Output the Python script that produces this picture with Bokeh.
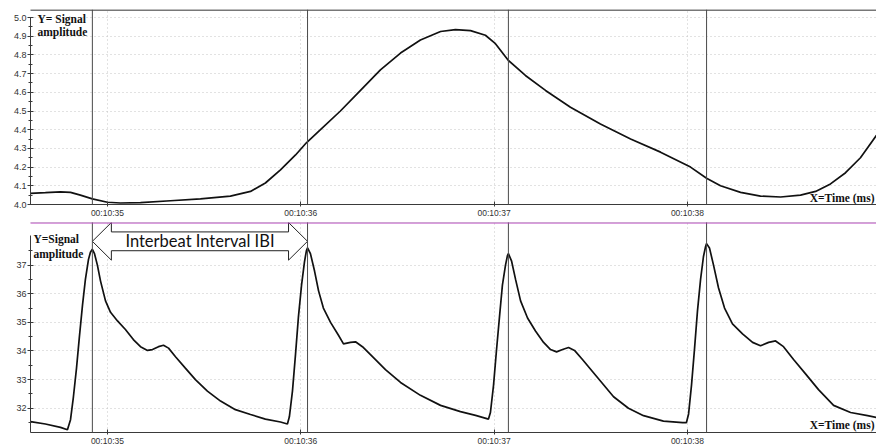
from bokeh.plotting import figure
from bokeh.layouts import column
from bokeh.models import Range1d, FixedTicker, PrintfTickFormatter, Label, Arrow
from bokeh.embed import file_html
from bokeh.resources import INLINE

# ---------------- data (time in seconds after 00:10:00) ----------------
resp_t = [34.602, 34.679, 34.757, 34.809, 34.860, 34.922, 35.000, 35.067, 35.171,
          35.326, 35.481, 35.636, 35.740, 35.817, 35.895, 35.973, 36.029, 36.102,
          36.205, 36.309, 36.412, 36.516, 36.619, 36.723, 36.800, 36.878, 36.955,
          37.007, 37.074, 37.162, 37.266, 37.395, 37.550, 37.706, 37.861, 38.016,
          38.099, 38.171, 38.275, 38.378, 38.482, 38.585, 38.663, 38.740, 38.818,
          38.895, 38.978]
resp_v = [4.060, 4.063, 4.068, 4.065, 4.050, 4.030, 4.012, 4.008, 4.010,
          4.020, 4.030, 4.045, 4.070, 4.115, 4.185, 4.265, 4.330, 4.400,
          4.500, 4.610, 4.720, 4.810, 4.880, 4.925, 4.935, 4.930, 4.905,
          4.860, 4.770, 4.690, 4.610, 4.520, 4.430, 4.350, 4.280, 4.200,
          4.140, 4.100, 4.065, 4.045, 4.040, 4.050, 4.070, 4.110, 4.170,
          4.250, 4.370]

ppg_t = [34.602, 34.679, 34.757, 34.793, 34.809, 34.824, 34.840, 34.855, 34.871,
         34.886, 34.902, 34.912, 34.922, 34.933, 34.948, 34.964, 34.990, 35.016,
         35.052, 35.093, 35.134, 35.171, 35.207, 35.233, 35.264, 35.290, 35.316,
         35.352, 35.403, 35.455, 35.517, 35.585, 35.662, 35.740, 35.817, 35.895,
         35.931, 35.941, 35.957, 35.973, 35.988, 36.004, 36.019, 36.029, 36.035,
         36.050, 36.071, 36.092, 36.117, 36.154, 36.195, 36.221, 36.257, 36.283,
         36.319, 36.371, 36.438, 36.516, 36.619, 36.723, 36.826, 36.904, 36.971,
         36.981, 36.997, 37.012, 37.028, 37.043, 37.059, 37.069, 37.074, 37.090,
         37.111, 37.137, 37.173, 37.214, 37.256, 37.292, 37.323, 37.354, 37.385,
         37.416, 37.457, 37.525, 37.618, 37.695, 37.773, 37.876, 37.975, 37.995,
         38.006, 38.021, 38.037, 38.052, 38.068, 38.083, 38.094, 38.099, 38.114,
         38.135, 38.161, 38.192, 38.233, 38.285, 38.337, 38.378, 38.420, 38.456,
         38.497, 38.549, 38.611, 38.678, 38.756, 38.844, 38.932, 38.978]
ppg_v = [31.53, 31.45, 31.33, 31.25, 31.60, 32.40, 33.40, 34.50, 35.60,
         36.50, 37.20, 37.45, 37.55, 37.40, 37.00, 36.45, 35.75, 35.35,
         35.05, 34.75, 34.40, 34.15, 34.02, 34.05, 34.15, 34.20, 34.10,
         33.80, 33.40, 33.00, 32.60, 32.25, 31.95, 31.78, 31.62, 31.52,
         31.45, 31.70, 32.60, 33.90, 35.20, 36.30, 37.10, 37.50, 37.60,
         37.40, 36.80, 36.10, 35.50, 35.00, 34.55, 34.25, 34.30, 34.32,
         34.15, 33.80, 33.35, 32.90, 32.45, 32.10, 31.88, 31.75, 31.62,
         31.85, 32.80, 34.00, 35.20, 36.30, 37.00, 37.33, 37.40, 37.15,
         36.50, 35.75, 35.15, 34.70, 34.30, 34.05, 33.97, 34.05, 34.12,
         34.02, 33.70, 33.15, 32.40, 32.00, 31.74, 31.55, 31.50, 31.50,
         31.80, 32.80, 34.10, 35.40, 36.50, 37.30, 37.65, 37.75, 37.60,
         37.00, 36.20, 35.50, 34.95, 34.60, 34.30, 34.18, 34.30, 34.35,
         34.15, 33.70, 33.20, 32.65, 32.10, 31.85, 31.74, 31.68]

beat_t = [34.922, 36.035, 37.074, 38.099]
x_ticks = [35, 36, 37, 38]
x_tick_labels = ["00:10:35", "00:10:36", "00:10:37", "00:10:38"]
resp_y_ticks = [4.0, 4.1, 4.2, 4.3, 4.4, 4.5, 4.6, 4.7, 4.8, 4.9, 5.0]
ppg_y_ticks = [32, 33, 34, 35, 36, 37]
top_y_title = ["Y= Signal", "amplitude"]
bot_y_title = ["Y=Signal", "amplitude"]
x_title = "X=Time (ms)"
ibi_label = "Interbeat Interval IBI"

# ---------------- geometry (page pixels) ----------------
W = 876
LEFT = 30                       # y axis at page x = 30
X_START, X_END = 34.602, 38.978
PPX = (W - LEFT) / (X_END - X_START)

H1, T1, B1 = 221, 9, 17         # top figure: page y 0..221, frame 9..204
PPY1 = 187.0
Y1_START = 4.0
Y1_END = Y1_START + (H1 - T1 - B1) / PPY1

H2, T2, B2 = 227, 1, 14         # bottom figure: page y 221..448, frame 222..434
PPY2 = 28.9
F1_BOTTOM = H1 - B1
F2_BOTTOM = H1 + H2 - B2
Y2_START = 32 - (F2_BOTTOM - 409.5) / PPY2
Y2_END = Y2_START + (H2 - T2 - B2) / PPY2


def x_at(px):
    return X_START + (px - LEFT) / PPX


def y1_at(py):
    return Y1_START + (F1_BOTTOM - py) / PPY1


def y2_at(py):
    return Y2_START + (F2_BOTTOM - py) / PPY2


AX = "#3a3a3a"
GRID = "#c4c4c4"
MARK = "#4a4a4a"
CURVE = "#111111"


def make_fig(h, y0, y1, bt, bb, yticks, yminor, fmt, ybounds):
    p = figure(width=W, height=h, x_range=Range1d(X_START, X_END),
               y_range=Range1d(y0, y1), output_backend="svg",
               toolbar_location=None, title=None,
               min_border_left=LEFT, min_border_right=0,
               min_border_top=bt, min_border_bottom=bb)
    p.outline_line_color = None
    p.background_fill_color = "white"
    p.border_fill_color = "white"

    xa = p.xaxis[0]
    xa.ticker = FixedTicker(ticks=x_ticks)
    xa.major_label_overrides = {float(t): l for t, l in zip(x_ticks, x_tick_labels)}
    xa.major_label_text_font = "Liberation Sans"
    xa.major_label_text_font_size = "8.5px"
    xa.major_label_text_color = "#333333"
    xa.major_label_standoff = 1
    xa.major_tick_in = 3
    xa.major_tick_out = 2
    xa.minor_tick_in = 0
    xa.minor_tick_out = 0
    xa.axis_line_color = AX
    xa.major_tick_line_color = AX

    ya = p.yaxis[0]
    ya.ticker = FixedTicker(ticks=yticks, minor_ticks=yminor)
    ya.formatter = PrintfTickFormatter(format=fmt)
    ya.bounds = ybounds
    ya.major_label_text_font = "Liberation Sans"
    ya.major_label_text_font_size = "9px"
    ya.major_label_text_color = "#333333"
    ya.major_label_standoff = 1
    ya.major_tick_in = 3
    ya.major_tick_out = 3
    ya.minor_tick_in = 2
    ya.minor_tick_out = 2
    ya.axis_line_color = AX
    ya.major_tick_line_color = AX
    ya.minor_tick_line_color = AX

    p.xgrid.ticker = FixedTicker(ticks=x_ticks)
    p.ygrid.ticker = FixedTicker(ticks=yticks[1:] if yticks[0] == ybounds[0] else yticks)
    for g in (p.xgrid, p.ygrid):
        g.grid_line_color = GRID
        g.grid_line_dash = "1 3"
        g.grid_line_width = 1
    return p


def vline(p, x, ya, yb, color=MARK, width=1):
    p.add_layout(Arrow(end=None, start=None, x_start=x, y_start=ya, x_end=x, y_end=yb,
                       line_color=color, line_width=width))


def hline(p, xa, xb, y, color, width):
    p.add_layout(Arrow(end=None, start=None, x_start=xa, y_start=y, x_end=xb, y_end=y,
                       line_color=color, line_width=width))


# ---------------- top panel ----------------
resp_minor = [round(v + 0.05, 2) for v in resp_y_ticks[:-1]]
p1 = make_fig(H1, Y1_START, Y1_END, T1, B1, resp_y_ticks, resp_minor, "%.1f",
              (resp_y_ticks[0], resp_y_ticks[-1]))
p1.line(resp_t, resp_v, line_color=CURVE, line_width=1.7)

hline(p1, x_at(12), X_END, y1_at(9.5), "#4a4a4a", 1.5)
vline(p1, x_at(12.5), y1_at(9), y1_at(221), "#5a5a5a", 1)
for b in beat_t:
    vline(p1, b, y1_at(9), y1_at(221))

for i, txt in enumerate(top_y_title):
    p1.add_layout(Label(x=x_at(37), y=y1_at(12 + 13 * i), text=txt,
                        text_font="Liberation Serif", text_font_style="bold",
                        text_font_size="11.5px", text_color="#111111",
                        text_baseline="top", text_align="left"))
p1.add_layout(Label(x=x_at(874), y=y1_at(197), text=x_title,
                    text_font="Liberation Serif", text_font_style="bold",
                    text_font_size="11.5px", text_color="#111111",
                    text_baseline="middle", text_align="right"))

# ---------------- bottom panel ----------------
ppg_minor = [v + 0.5 for v in [31] + ppg_y_ticks]
p2 = make_fig(H2, Y2_START, Y2_END, T2, B2, ppg_y_ticks, ppg_minor, "%d",
              (Y2_START, 38.02))
p2.line(ppg_t, ppg_v, line_color=CURVE, line_width=1.7)

# Interbeat interval block arrow between the first two beats
b0, b1 = beat_t[0], beat_t[1]
yc = y2_at(241)
hh, sh = 19 / PPY2, 9.5 / PPY2
hl = 19 / PPX
ax_ = [b0, b0 + hl, b0 + hl, b1 - hl, b1 - hl, b1, b1 - hl, b1 - hl, b0 + hl, b0 + hl]
ay_ = [yc, yc + hh, yc + sh, yc + sh, yc + hh, yc, yc - hh, yc - sh, yc - sh, yc - hh]
p2.patch(ax_, ay_, fill_color="white", line_color="#222222", line_width=1)
p2.add_layout(Label(x=(b0 + b1) / 2, y=yc, text=ibi_label, text_font="Lato",
                    text_font_size="16.5px", text_color="#111111",
                    text_align="center", text_baseline="middle"))

vline(p2, x_at(12.5), y2_at(221), y2_at(448), "#5a5a5a", 1)
for b in beat_t:
    vline(p2, b, y2_at(221), y2_at(448))
hline(p2, x_at(12), X_END, y2_at(221.5), "#5c1f63", 1)
hline(p2, x_at(12), X_END, y2_at(222.5), "#b43cbc", 1.2)

for i, txt in enumerate(bot_y_title):
    p2.add_layout(Label(x=x_at(33), y=y2_at(233 + 15 * i), text=txt,
                        text_font="Liberation Serif", text_font_style="bold",
                        text_font_size="11.5px", text_color="#111111",
                        text_baseline="top", text_align="left"))
p2.add_layout(Label(x=x_at(874), y=y2_at(426), text=x_title,
                    text_font="Liberation Serif", text_font_style="bold",
                    text_font_size="11.5px", text_color="#111111",
                    text_baseline="middle", text_align="right"))

layout = column(p1, p2, spacing=0)
open("out.html", "w").write(file_html(layout, INLINE))
